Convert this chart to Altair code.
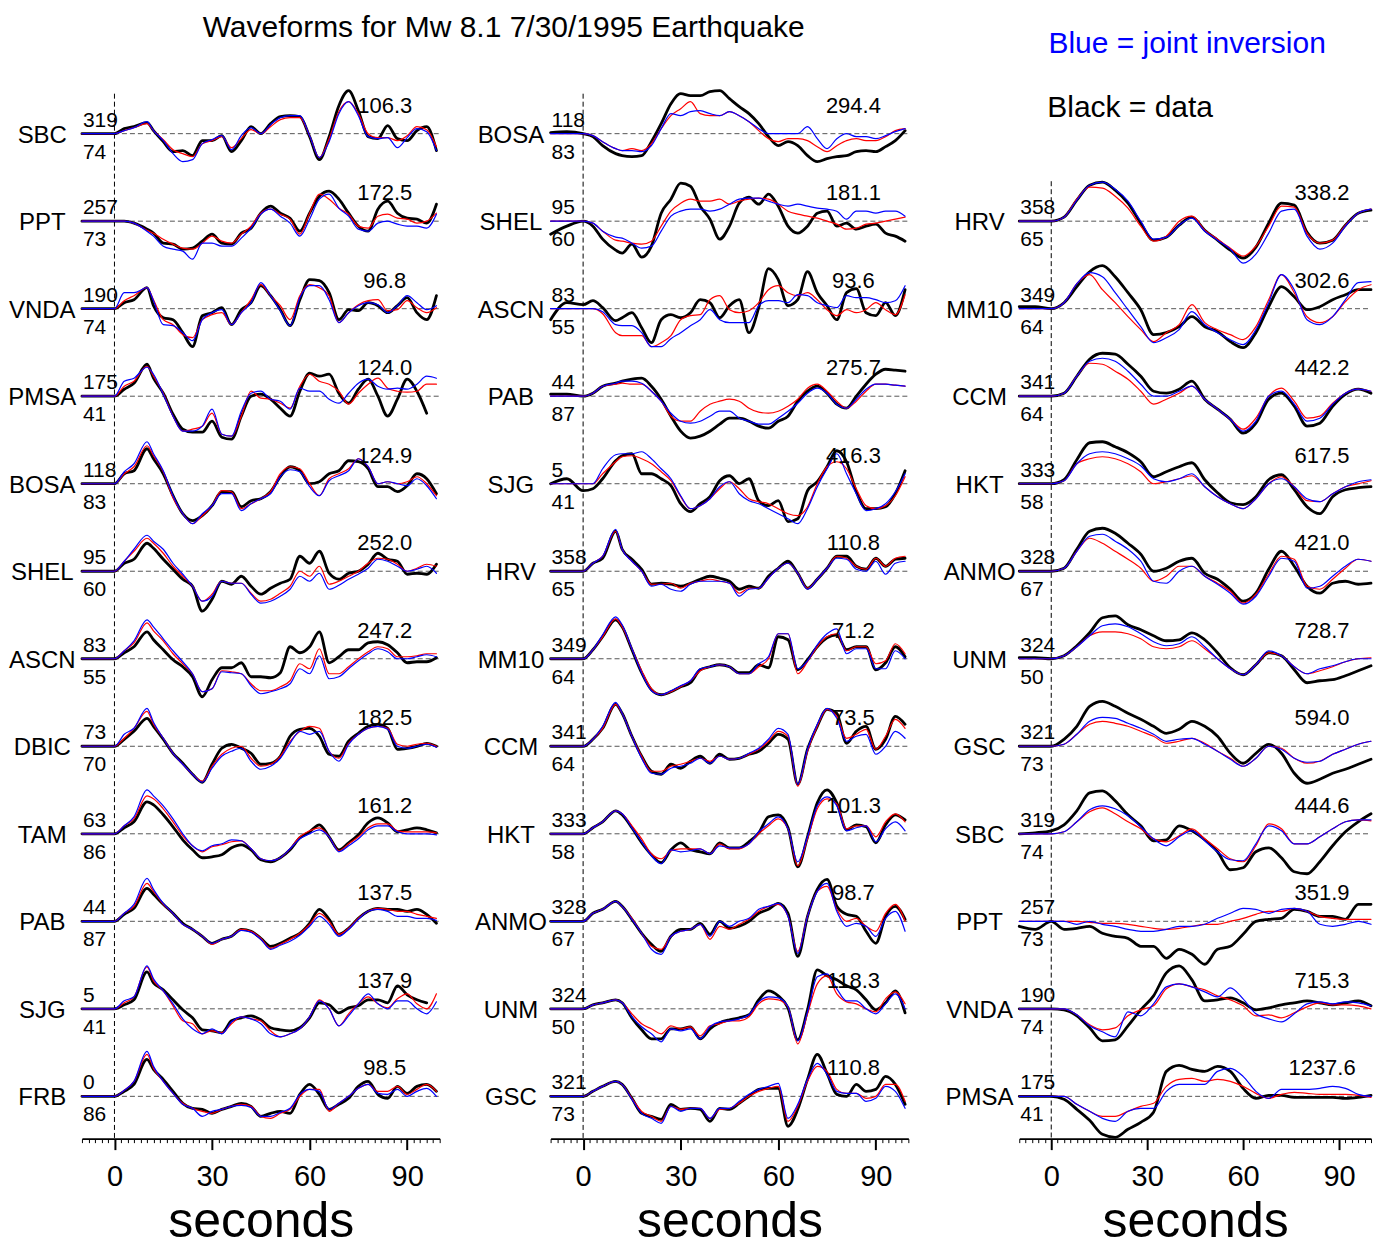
import altair as alt
import pandas as pd

FONT = "Liberation Sans"

# ---------------- time grids (seconds) ----------------
T_C12 = [-10, -5, 0, 3, 6, 10] + list(range(12, 100, 3))
T_C3 = [-10, -5] + list(range(0, 101, 4))

# ---------------- column 1 ----------------
C1_STATIONS = ["SBC", "PPT", "VNDA", "PMSA", "BOSA", "SHEL", "ASCN", "DBIC", "TAM", "PAB", "SJG", "FRB"]
C1_AZ = [319, 257, 190, 175, 118, 95, 83, 73, 63, 44, 5, 0]
C1_DIST = [74, 73, 74, 41, 83, 60, 55, 70, 86, 87, 41, 86]
C1_AMP = ["106.3", "172.5", "96.8", "124.0", "124.9", "252.0", "247.2", "182.5", "161.2", "137.5", "137.9", "98.5"]

C1_SBC_B = [0,0, 0,5,7,11,3,-8,-18,-17,-22,-7,-7,-2,-18,-7,7,0,10,17,18,17,-3,-26,-3,28,43,23,-3,-5,8,-5,-7,3,7,-17]
C1_SBC_R = [0,0, 0,3,6,10,3,-6,-16,-20,-23,-10,-7,-3,-14,-5,4,0,7,14,16,16,-2,-24,-5,22,32,20,0,-4,-4,-7,-2,7,4,-13]
C1_SBC_L = [0,0, 0,3,6,12,3,-7,-20,-28,-26,-10,-6,-2,-16,-2,6,0,9,16,18,18,-2,-24,-8,20,32,18,-3,-5,-4,-14,-4,5,2,-17]
C1_PPT_B = [0,0, 0,0,-2,-8,-12,-22,-23,-28,-27,-20,-13,-22,-23,-12,-7,8,15,8,3,-10,8,25,30,22,8,-5,-10,12,20,8,3,2,-2,17]
C1_PPT_R = [0,0, 0,0,-2,-9,-12,-18,-23,-27,-28,-22,-15,-20,-22,-13,-5,8,12,7,2,-13,8,27,22,13,7,-5,-7,5,7,3,2,-2,0,8]
C1_PPT_L = [0,0, 0,0,-2,-10,-15,-25,-28,-30,-38,-22,-22,-25,-25,-17,-7,7,12,5,-2,-15,2,22,27,13,5,-8,-10,-2,0,-3,-5,-5,-7,7]
C1_VNDA_B = [0,0, 0,6,9,21,3,-9,-11,-24,-38,-7,-4,1,-16,-1,6,23,13,-1,-17,9,29,28,16,-11,-1,-2,6,3,-4,3,11,-4,-11,13]
C1_VNDA_R = [0,0, 0,8,13,21,9,-11,-16,-26,-29,-11,-6,-4,-16,-4,9,24,13,3,-11,13,24,21,13,-14,-4,4,8,9,-2,-1,8,1,-4,1]
C1_VNDA_L = [0,0, 0,16,16,21,8,-16,-17,-24,-32,-11,-4,-1,-16,-4,6,26,13,-2,-17,11,23,23,9,-14,-4,3,6,4,-4,3,13,6,-1,3]
C1_PMSA_B = [0,0, 0,7,13,32,18,3,-18,-33,-36,-36,-25,-41,-43,-20,0,2,-3,-12,-20,5,23,20,22,3,-7,7,17,0,-20,-3,17,5,-17,None]
C1_PMSA_R = [0,0, 0,10,15,30,20,3,-20,-35,-33,-30,-17,-38,-40,-20,5,-2,-3,-7,-12,10,22,15,12,5,-8,3,12,18,8,5,4,5,12,12]
C1_PMSA_L = [0,0, 0,15,18,29,22,2,-20,-35,-35,-30,-13,-38,-40,-15,3,5,-3,-5,-13,8,5,5,-3,-7,3,13,17,10,7,8,7,12,20,18]
C1_BOSA_B = [0,0, 0,10,13,35,25,10,-12,-30,-37,-32,-22,-8,-8,-23,-17,-15,-8,7,17,13,0,2,10,13,23,22,15,-3,-3,-8,-2,10,5,-10]
C1_BOSA_R = [0,0, 0,10,17,38,28,12,-14,-30,-40,-32,-22,-7,-8,-25,-20,-15,-8,10,17,15,0,-12,5,10,15,25,17,0,2,0,2,7,0,-12]
C1_BOSA_L = [0,0, 0,12,20,42,30,13,-12,-30,-40,-30,-22,-10,-10,-27,-20,-15,-10,7,14,12,-3,-12,3,8,13,25,17,0,2,0,-2,5,-2,-15]
C1_SHEL_B = [0,0, 0,8,12,28,23,12,2,-8,-15,-40,-28,-10,-13,-5,-15,-23,-17,-12,-8,15,8,20,-2,-8,-2,0,7,18,12,10,-3,-2,-3,7]
C1_SHEL_R = [0,0, 0,10,20,33,28,18,5,-5,-15,-30,-23,-10,-12,-12,-22,-30,-28,-22,-15,0,-5,5,-13,-10,-5,0,8,13,12,7,0,3,7,5]
C1_SHEL_L = [0,0, 0,10,22,36,30,22,8,-3,-15,-30,-25,-10,-12,-12,-23,-32,-30,-25,-18,-5,-10,-2,-18,-14,-8,-3,3,12,10,5,0,2,5,-2]
C1_ASCN_B = [0,0, 0,6,12,27,19,9,-1,-8,-18,-38,-21,-9,-9,-4,-18,-18,-19,-14,12,6,12,27,-4,2,9,9,16,17,14,6,-4,-3,-3,1]
C1_ASCN_R = [0,0, 0,8,16,36,28,18,5,-5,-15,-33,-30,-12,-13,-15,-25,-32,-32,-28,-22,-5,-10,10,-15,-15,-8,0,7,12,10,2,2,3,5,5]
C1_ASCN_L = [0,0, 0,8,18,39,32,20,8,-3,-15,-33,-30,-13,-14,-15,-27,-35,-33,-30,-25,-10,-15,3,-20,-18,-10,-2,5,10,7,0,0,2,4,2]
C1_DBIC_B = [0,0, 0,7,15,28,20,7,-7,-17,-28,-36,-18,-2,2,-2,-7,-18,-17,-10,10,17,18,10,-8,-10,5,13,20,22,18,-3,-2,0,3,0]
C1_DBIC_R = [0,0, 0,8,18,35,22,8,-7,-18,-28,-35,-20,-8,-2,0,-12,-20,-18,-10,5,15,20,18,-5,-12,3,12,18,20,18,2,0,2,3,0]
C1_DBIC_L = [0,0, 0,12,18,38,24,8,-7,-18,-28,-36,-22,-10,-5,-2,-15,-23,-20,-12,3,15,12,15,-5,-15,2,12,18,20,17,0,-2,0,2,-1]
C1_TAM_B = [0,0, 0,6,12,32,29,19,7,-6,-16,-24,-23,-21,-14,-11,-16,-26,-28,-24,-16,-4,2,9,-3,-16,-9,-1,11,16,11,2,4,6,4,1]
C1_TAM_R = [0,0, 0,8,15,38,35,25,12,-2,-12,-18,-13,-11,-8,-7,-15,-25,-27,-24,-15,-3,3,6,-3,-17,-10,-3,6,10,10,3,2,2,2,1]
C1_TAM_L = [0,0, 0,8,17,44,38,28,15,0,-12,-17,-12,-10,-6,-7,-15,-25,-27,-24,-15,-5,0,4,-3,-18,-12,-5,4,8,8,2,0,0,0,-1]
C1_PAB_B = [0,0, 0,7,13,33,27,17,8,-2,-8,-15,-22,-18,-15,-8,-10,-17,-25,-22,-17,-12,-2,12,2,-13,-7,3,10,13,12,12,10,12,7,-2]
C1_PAB_R = [0,0, 0,8,15,38,30,17,8,-3,-8,-15,-23,-18,-15,-8,-10,-17,-27,-23,-18,-12,-3,8,0,-13,-7,3,10,13,12,10,10,7,5,3]
C1_PAB_L = [0,0, 0,8,17,43,32,18,8,-3,-8,-15,-22,-18,-15,-9,-11,-18,-28,-24,-20,-14,-5,5,-3,-15,-8,2,10,12,10,5,5,3,3,1]
C1_SJG_B = [0,0, 0,4,9,37,26,19,9,-1,-9,-21,-22,-24,-12,-9,-7,-11,-19,-21,-22,-19,-9,6,4,-4,1,3,9,9,6,23,14,9,6,None]
C1_SJG_R = [0,0, 0,6,12,42,28,18,3,-12,-15,-25,-22,-24,-15,-8,-10,-12,-22,-28,-25,-20,-8,9,0,-17,-5,5,12,5,1,10,15,5,0,15]
C1_SJG_L = [0,0, 0,8,12,43,30,18,5,-10,-20,-25,-20,-25,-13,-8,-10,-15,-25,-28,-25,-20,-8,8,0,-17,-7,5,15,5,0,8,8,0,-5,7]
C1_FRB_B = [0,0, 0,5,12,37,27,17,5,-7,-12,-13,-17,-13,-10,-7,-10,-20,-17,-15,-17,2,12,2,-13,-8,-2,10,15,2,-2,10,3,10,12,5]
C1_FRB_R = [0,0, 0,6,15,42,28,15,3,-7,-12,-15,-17,-13,-10,-8,-10,-20,-22,-17,-13,0,7,7,-15,-7,0,8,12,5,5,10,2,7,12,5]
C1_FRB_L = [0,0, 0,6,15,45,30,15,3,-8,-12,-20,-15,-13,-10,-9,-11,-20,-20,-16,-12,2,7,5,-13,-7,0,8,12,3,2,7,0,5,8,0]

# ---------------- column 2 ----------------
C2_STATIONS = ["BOSA", "SHEL", "ASCN", "PAB", "SJG", "HRV", "MM10", "CCM", "HKT", "ANMO", "UNM", "GSC"]
C2_AZ = [118, 95, 83, 44, 5, 358, 349, 341, 333, 328, 324, 321]
C2_DIST = [83, 60, 55, 87, 41, 65, 64, 64, 58, 67, 50, 73]
C2_AMP = ["294.4", "181.1", "93.6", "275.7", "416.3", "110.8", "71.2", "73.5", "101.3", "98.7", "118.3", "110.8"]

C2_BOSA_B = [1,2, 0,-3,-12,-20,-22,-23,-22,-8,10,30,40,38,38,42,43,35,27,20,10,-3,-12,-8,-12,-22,-28,-25,-23,-22,-18,-17,-18,-13,-7,3]
C2_BOSA_R = [0,0, 0,-2,-8,-15,-17,-15,-17,-10,5,18,25,32,20,18,18,22,18,12,3,-5,-8,-5,-5,-7,-13,-18,-12,-7,-5,-7,-7,-3,3,5]
C2_BOSA_L = [0,0, 0,-2,-8,-15,-17,-17,-18,-12,5,20,18,22,23,20,18,22,18,12,5,0,0,0,0,7,-5,-15,-5,0,-3,-3,-5,-2,2,5]
C2_SHEL_B = [-13,-5, 0,-5,-18,-29,-32,-23,-36,-25,8,22,38,35,15,2,-18,-5,18,24,17,27,15,-5,-12,-5,8,10,-5,-2,-8,-5,-3,-12,-15,-20]
C2_SHEL_R = [0,0, 0,-2,-10,-19,-20,-22,-23,-20,-5,10,18,22,20,20,22,17,20,22,23,22,17,10,7,5,3,0,-3,-8,-7,-3,-2,0,2,4]
C2_SHEL_L = [0,0, 0,-2,-10,-16,-17,-22,-27,-25,-10,5,10,12,12,10,12,17,22,23,23,20,17,15,17,15,13,12,10,2,10,10,8,10,10,5]
C2_ASCN_B = [-11,6, 4,8,1,-12,-9,-4,-19,-34,-11,-6,-9,-4,9,6,-9,3,9,-24,1,40,29,3,9,37,16,3,-11,16,20,-4,-7,6,-7,19]
C2_ASCN_R = [0,0, 0,0,-5,-24,-27,-27,-27,-38,-34,-27,-11,-7,-6,9,13,-1,-4,-2,6,19,23,16,13,16,9,-1,-7,-1,-4,-1,6,-1,-6,14]
C2_ASCN_L = [0,0, 0,0,-3,-16,-17,-17,-24,-38,-38,-30,-24,-17,-11,-1,-11,-14,-14,-14,3,8,8,6,14,13,6,3,1,13,11,11,9,6,8,23]
C2_PAB_B = [2,2, 0,3,10,13,15,17,18,10,-3,-20,-35,-42,-40,-35,-28,-22,-22,-25,-30,-32,-25,-20,-5,5,10,3,-8,-12,0,12,22,27,26,25]
C2_PAB_R = [0,0, 0,3,10,12,13,12,12,5,-5,-20,-25,-25,-15,-8,-5,-3,-5,-12,-16,-17,-15,-10,-3,8,12,5,-5,-12,-5,5,12,12,11,10]
C2_PAB_L = [0,0, 0,3,10,13,15,15,13,5,-5,-17,-25,-27,-25,-20,-15,-15,-22,-25,-28,-28,-22,-15,-7,3,8,3,-8,-12,-3,7,12,12,11,10]
C2_SJG_B = [0,5, -7,-5,5,23,28,30,10,10,5,-2,-20,-28,-20,-13,3,8,0,5,-17,-22,-17,-38,-35,-7,2,17,33,22,-8,-25,-25,-23,-10,13]
C2_SJG_R = [0,0, 0,0,10,22,27,28,25,20,12,3,-13,-25,-22,-15,-5,2,-5,-15,-18,-20,-25,-30,-32,-23,0,17,22,15,-5,-22,-25,-22,-12,7]
C2_SJG_L = [0,0, 0,0,15,29,30,30,32,25,15,5,-12,-25,-22,-15,-3,2,-10,-17,-20,-25,-30,-35,-40,-25,-3,15,30,10,-10,-27,-25,-20,-8,10]
C2_HRV_B = [0,0, 0,8,13,40,22,12,2,-13,-12,-13,-15,-12,-8,-5,-7,-10,-18,-15,-17,-5,3,10,-2,-17,-8,3,15,15,5,2,13,5,12,13]
C2_HRV_R = [0,0, 0,8,15,40,22,10,0,-13,-13,-12,-17,-12,-10,-8,-10,-12,-22,-17,-17,-7,3,8,-2,-17,-8,3,15,13,5,2,13,5,13,15]
C2_HRV_L = [0,0, 0,8,15,42,22,10,0,-15,-13,-18,-20,-13,-10,-10,-10,-12,-25,-18,-17,-7,3,8,-2,-18,-8,3,13,12,2,0,10,-3,8,10]
C2_MM10_B = [0,0, 0,9,22,39,32,9,-14,-31,-36,-33,-28,-24,-11,-8,-6,-8,-14,-14,-6,-9,22,19,-11,-1,12,21,24,9,12,12,-11,-4,12,2]
C2_MM10_R = [0,0, 0,9,22,40,32,10,-12,-30,-36,-33,-28,-22,-12,-8,-6,-8,-15,-15,-8,0,25,25,-15,-3,12,22,25,8,12,12,-5,-2,15,5]
C2_MM10_L = [0,0, 0,9,24,42,34,10,-14,-32,-36,-32,-27,-22,-10,-8,-6,-8,-15,-15,-5,2,25,25,-10,-2,14,25,30,5,10,10,-10,-10,8,0]
C2_CCM_B = [0,0, 0,7,18,42,33,10,-10,-25,-28,-18,-22,-15,-10,-17,-8,-13,-12,-8,-5,3,12,7,-38,-3,20,37,33,3,15,20,-3,7,30,22]
C2_CCM_R = [0,0, 0,7,18,42,33,10,-10,-25,-25,-20,-18,-15,-12,-15,-10,-13,-12,-8,-3,5,15,10,-40,-5,20,37,30,8,12,17,-3,10,27,18]
C2_CCM_L = [0,0, 0,7,20,44,33,10,-12,-27,-28,-22,-20,-17,-12,-17,-10,-13,-12,-7,-2,7,18,12,-38,-3,22,38,28,5,10,12,-8,0,15,8]
C2_HKT_B = [0,0, 0,6,12,23,19,6,-9,-21,-29,-16,-9,-16,-18,-20,-9,-14,-14,-8,1,17,19,6,-33,-3,31,44,31,4,9,7,-9,9,19,14]
C2_HKT_R = [0,0, 0,6,12,23,20,8,-5,-20,-25,-17,-15,-15,-15,-20,-10,-15,-15,-10,0,8,15,5,-32,-5,25,35,30,5,8,8,-3,12,20,12]
C2_HKT_L = [0,0, 0,6,12,23,20,6,-8,-22,-30,-16,-18,-17,-15,-20,-12,-14,-14,-10,2,10,17,5,-28,-3,28,37,28,3,6,8,-8,5,12,3]
C2_ANMO_B = [0,0, 0,8,12,20,15,2,-12,-23,-30,-15,-8,-8,-2,-13,0,-7,-5,0,8,12,18,8,-35,5,32,42,15,7,5,-10,-22,5,15,2]
C2_ANMO_R = [0,0, 0,8,12,20,15,3,-12,-25,-28,-15,-10,-8,-3,-18,-5,-8,-3,2,10,15,17,5,-30,5,30,35,12,0,3,-5,-10,8,17,0]
C2_ANMO_L = [0,0, 0,8,12,20,15,2,-12,-28,-33,-15,-10,-8,-3,-15,0,-5,0,3,12,15,18,5,-32,5,30,38,10,-5,-2,-5,-15,3,10,-10]
C2_UNM_B = [0,0, 0,4,6,9,6,-9,-21,-30,-30,-20,-20,-18,-30,-20,-14,-11,-9,-6,9,18,13,1,-31,-1,39,33,29,23,19,9,-1,6,18,-4]
C2_UNM_R = [0,0, 0,4,6,9,6,-5,-15,-20,-25,-17,-20,-18,-27,-17,-15,-12,-12,-8,5,10,9,2,-35,-5,25,33,15,7,5,0,-3,10,17,5]
C2_UNM_L = [0,0, 0,4,6,9,6,-8,-18,-25,-33,-20,-22,-20,-30,-18,-13,-12,-10,-6,7,12,11,2,-32,-3,32,35,20,8,8,0,-5,5,15,0]
C2_GSC_B = [0,0, 0,5,10,15,12,-2,-17,-20,-23,-8,-13,-12,-13,-25,-12,-13,-7,0,7,8,8,-30,-13,17,42,23,2,0,12,5,7,20,12,-8]
C2_GSC_R = [0,0, 0,5,10,15,12,-2,-15,-20,-25,-10,-13,-12,-12,-22,-13,-12,-7,0,5,8,10,-25,-10,15,30,25,7,3,3,-2,0,12,12,-5]
C2_GSC_L = [0,0, 0,5,10,15,12,-3,-17,-22,-27,-10,-15,-12,-12,-22,-12,-12,-5,2,7,10,13,-22,-8,17,33,22,5,3,3,-5,-2,10,5,-12]

# ---------------- column 3 ----------------
C3_STATIONS = ["HRV", "MM10", "CCM", "HKT", "ANMO", "UNM", "GSC", "SBC", "PPT", "VNDA", "PMSA"]
C3_AZ = [358, 349, 341, 333, 328, 324, 321, 319, 257, 190, 175]
C3_DIST = [65, 64, 64, 58, 67, 50, 73, 74, 73, 74, 41]
C3_AMP = ["338.2", "302.6", "442.2", "617.5", "421.0", "728.7", "594.0", "444.6", "351.9", "715.3", "1237.6"]

C3_HRV_B = [0,0, 0,4,21,36,39,31,18,-2,-19,-16,-4,4,-9,-19,-29,-37,-26,-2,18,16,-11,-22,-19,-4,8,11]
C3_HRV_R = [0,0, 0,4,22,34,33,25,13,-5,-20,-15,0,5,-9,-18,-27,-35,-25,-5,15,14,-12,-22,-19,-4,8,12]
C3_HRV_L = [0,0, 0,4,21,36,39,32,20,0,-18,-16,-4,3,-10,-19,-28,-42,-33,-12,10,12,-15,-28,-22,-5,8,12]
C3_MM10_B = [2,2, 0,6,22,37,43,32,16,-1,-26,-24,-18,-8,-18,-23,-33,-39,-24,2,22,12,-1,2,9,14,19,19]
C3_MM10_R = [0,0, 0,6,25,34,19,6,-8,-21,-33,-24,-16,4,-14,-21,-26,-31,-18,9,34,16,-8,-14,-8,7,19,24]
C3_MM10_L = [0,0, 0,6,25,36,32,16,-1,-18,-34,-29,-21,-3,-16,-24,-31,-36,-21,6,34,19,-11,-16,-8,9,26,27]
C3_CCM_B = [0,0, 0,3,20,37,43,42,32,20,5,3,7,15,-3,-13,-23,-37,-27,-3,3,-10,-30,-27,-10,2,7,3]
C3_CCM_R = [0,0, 0,3,20,33,32,25,17,5,-8,-3,3,10,-3,-13,-23,-33,-22,0,8,-5,-22,-20,-7,3,7,5]
C3_CCM_L = [0,0, 0,3,20,35,38,35,25,12,0,0,5,10,-3,-13,-23,-35,-25,0,5,-8,-25,-22,-8,3,7,5]
C3_HKT_B = [0,0, 0,4,24,41,42,37,31,22,7,12,17,21,4,-9,-19,-21,-13,4,9,-6,-23,-30,-13,-6,-4,-3]
C3_HKT_R = [0,0, 0,3,20,25,27,25,20,12,0,2,5,8,-3,-13,-20,-25,-15,0,7,-3,-17,-18,-10,-3,0,3]
C3_HKT_L = [0,0, 0,3,20,30,32,30,25,18,5,2,5,10,-3,-13,-20,-25,-15,0,5,-3,-15,-18,-10,-3,2,4]
C3_ANMO_B = [0,0, 0,3,22,40,43,38,28,17,0,3,10,13,-2,-8,-18,-30,-22,2,20,5,-15,-22,-12,-10,-13,-12]
C3_ANMO_R = [0,0, 0,3,20,33,28,20,12,3,-10,-5,5,5,-5,-12,-20,-32,-23,-3,15,12,-15,-18,-8,3,12,10]
C3_ANMO_L = [0,0, 0,3,20,35,37,30,22,10,-10,-12,0,5,-5,-13,-22,-33,-25,-5,13,10,-17,-15,-5,5,12,10]
C3_UNM_B = [1,1, 0,3,13,26,41,43,34,29,23,18,19,26,19,6,-9,-16,-6,6,3,-11,-24,-22,-21,-17,-12,-7]
C3_UNM_R = [0,0, 0,3,12,23,27,27,25,20,12,10,12,18,10,0,-10,-16,-6,6,3,-8,-15,-12,-8,-3,0,1]
C3_UNM_L = [0,0, 0,3,12,23,33,35,32,25,17,13,15,22,12,0,-10,-16,-6,8,3,-8,-15,-10,-7,-3,0,0]
C3_GSC_B = [0,0, 0,7,20,40,45,40,33,27,20,13,17,25,20,10,-7,-17,-7,2,-7,-27,-37,-33,-27,-23,-18,-13]
C3_GSC_R = [0,0, 0,2,12,22,25,23,20,15,10,3,5,8,3,-5,-12,-20,-12,0,-2,-12,-17,-15,-8,-3,2,5]
C3_GSC_L = [0,0, 0,2,12,25,29,28,23,18,12,5,7,8,2,-5,-13,-20,-12,0,-3,-12,-16,-15,-8,-3,2,5]
C3_SBC_B = [0,1, 3,9,23,41,43,33,19,8,-7,-6,8,3,-6,-18,-36,-34,-18,-14,-24,-38,-40,-28,-12,2,12,20]
C3_SBC_R = [0,0, 0,2,12,22,26,20,12,5,-5,-8,-2,5,-5,-15,-25,-28,-12,10,5,-10,-10,-3,5,12,14,13]
C3_SBC_L = [0,0, 0,2,12,24,28,25,18,7,-5,-12,-3,3,-7,-18,-26,-27,-10,8,3,-10,-10,-3,5,12,14,14]
C3_PPT_B = [-5,-8, 0,-8,-7,-5,-12,-15,-17,-25,-25,-37,-28,-33,-43,-28,-25,-13,0,2,3,12,10,5,5,2,17,17]
C3_PPT_R = [0,0, 0,0,0,-1,-2,-2,-3,-5,-7,-8,-7,-5,-3,-3,0,3,7,10,10,13,10,5,3,2,2,2]
C3_PPT_L = [0,0, 0,0,-3,0,-3,-5,-8,-10,-10,-8,-5,-5,-3,3,8,13,12,8,12,13,10,-3,-5,-3,0,-3]
C3_VNDA_B = [0,0, 0,-1,-7,-19,-32,-31,-17,-1,13,36,43,29,8,9,11,6,-1,1,4,6,8,6,4,6,8,3]
C3_VNDA_R = [0,0, 0,0,-6,-16,-21,-19,-7,-1,3,20,25,22,19,13,9,3,-7,-6,-9,-4,2,6,4,4,3,0]
C3_VNDA_L = [0,0, 0,0,-6,-17,-23,-28,-3,-7,5,22,25,22,17,12,21,10,-5,-10,-13,-5,5,7,5,7,6,3]
C3_PMSA_B = [0,0, 0,-3,-13,-24,-38,-41,-33,-26,-16,25,31,27,25,30,25,8,-2,1,1,-1,-1,-1,-1,-2,-1,1]
C3_PMSA_R = [0,0, 0,0,-8,-15,-20,-20,-15,-10,-7,10,17,18,15,17,15,10,3,-2,2,4,3,2,2,2,1,-1]
C3_PMSA_L = [0,0, 0,0,-8,-15,-22,-25,-15,-12,-12,5,12,12,12,25,28,20,5,-2,7,7,7,8,10,8,2,0]

C1_WAVES = [
    (C1_SBC_B, C1_SBC_R, C1_SBC_L), (C1_PPT_B, C1_PPT_R, C1_PPT_L),
    (C1_VNDA_B, C1_VNDA_R, C1_VNDA_L), (C1_PMSA_B, C1_PMSA_R, C1_PMSA_L),
    (C1_BOSA_B, C1_BOSA_R, C1_BOSA_L), (C1_SHEL_B, C1_SHEL_R, C1_SHEL_L),
    (C1_ASCN_B, C1_ASCN_R, C1_ASCN_L), (C1_DBIC_B, C1_DBIC_R, C1_DBIC_L),
    (C1_TAM_B, C1_TAM_R, C1_TAM_L), (C1_PAB_B, C1_PAB_R, C1_PAB_L),
    (C1_SJG_B, C1_SJG_R, C1_SJG_L), (C1_FRB_B, C1_FRB_R, C1_FRB_L),
]
C2_WAVES = [
    (C2_BOSA_B, C2_BOSA_R, C2_BOSA_L), (C2_SHEL_B, C2_SHEL_R, C2_SHEL_L),
    (C2_ASCN_B, C2_ASCN_R, C2_ASCN_L), (C2_PAB_B, C2_PAB_R, C2_PAB_L),
    (C2_SJG_B, C2_SJG_R, C2_SJG_L), (C2_HRV_B, C2_HRV_R, C2_HRV_L),
    (C2_MM10_B, C2_MM10_R, C2_MM10_L), (C2_CCM_B, C2_CCM_R, C2_CCM_L),
    (C2_HKT_B, C2_HKT_R, C2_HKT_L), (C2_ANMO_B, C2_ANMO_R, C2_ANMO_L),
    (C2_UNM_B, C2_UNM_R, C2_UNM_L), (C2_GSC_B, C2_GSC_R, C2_GSC_L),
]
C3_WAVES = [
    (C3_HRV_B, C3_HRV_R, C3_HRV_L), (C3_MM10_B, C3_MM10_R, C3_MM10_L),
    (C3_CCM_B, C3_CCM_R, C3_CCM_L), (C3_HKT_B, C3_HKT_R, C3_HKT_L),
    (C3_ANMO_B, C3_ANMO_R, C3_ANMO_L), (C3_UNM_B, C3_UNM_R, C3_UNM_L),
    (C3_GSC_B, C3_GSC_R, C3_GSC_L), (C3_SBC_B, C3_SBC_R, C3_SBC_L),
    (C3_PPT_B, C3_PPT_R, C3_PPT_L), (C3_VNDA_B, C3_VNDA_R, C3_VNDA_L),
    (C3_PMSA_B, C3_PMSA_R, C3_PMSA_L),
]

TITLE = "Waveforms for Mw 8.1 7/30/1995 Earthquake"
LEGEND_BLUE = "Blue = joint inversion"
LEGEND_BLACK = "Black = data"

# ---------------- layout constants ----------------
PLOT_H = 1131
ROW_PX = 87.58
TOP_PX = 125.3
T_MIN, T_MAX = -10, 100
STATION_DX = -39.7   # px from plot left edge (label centre)
NUM_DX = 1.0         # px from plot left edge (left-aligned numbers)
AMP_DX = 303.0       # px from plot left edge (amplitude centre)

COLUMNS = [
    dict(stations=C1_STATIONS, az=C1_AZ, dist=C1_DIST, amp=C1_AMP, waves=C1_WAVES, times=T_C12, first_row=0, width=358),
    dict(stations=C2_STATIONS, az=C2_AZ, dist=C2_DIST, amp=C2_AMP, waves=C2_WAVES, times=T_C12, first_row=0, width=358),
    dict(stations=C3_STATIONS, az=C3_AZ, dist=C3_DIST, amp=C3_AMP, waves=C3_WAVES, times=T_C3, first_row=1, width=352),
]


def baseline(row):
    return -TOP_PX - row * ROW_PX


x_scale = alt.Scale(domain=[T_MIN, T_MAX], nice=False, zero=False)
y_scale = alt.Scale(domain=[-PLOT_H, 0], nice=False, zero=False)

AXIS = alt.Axis(
    values=list(range(T_MIN, T_MAX + 1, 2)),
    title="seconds",
    grid=False,
    labelExpr="datum.value % 30 === 0 ? datum.label : ''",
    labelFont=FONT, labelFontSize=29, labelColor="black",
    labelPadding=13, labelOverlap=False, labelFlush=False,
    tickSize={"condition": {"test": "datum.value % 30 === 0", "value": 11}, "value": 4},
    tickWidth={"condition": {"test": "datum.value % 30 === 0", "value": 2}, "value": 1},
    tickColor="black", domainColor="black", domainWidth=2,
    titleFont=FONT, titleFontSize=50, titleFontWeight="normal", titleColor="black",
    titleBaseline="alphabetic", titleY=98,
)

X = alt.X("t:Q", scale=x_scale, axis=AXIS)
Y = alt.Y("y:Q", scale=y_scale, axis=None)

SERIES_STYLE = [("data", "black", 2.8), ("red", "#ff0000", 1.2), ("blue", "#0000ff", 1.2)]


def column_chart(ci, spec):
    pps = spec["width"] / (T_MAX - T_MIN)
    t_station = T_MIN + STATION_DX / pps
    t_num = T_MIN + NUM_DX / pps
    t_amp = T_MIN + AMP_DX / pps
    line_rows, base_rows, st_rows, az_rows, di_rows, amp_rows = [], [], [], [], [], []
    for i, name in enumerate(spec["stations"]):
        row = spec["first_row"] + i
        b = baseline(row)
        for (sname, _, _), arr in zip(SERIES_STYLE, spec["waves"][i]):
            for t, v in zip(spec["times"], arr):
                if v is None:
                    continue
                line_rows.append(dict(key=f"{ci}-{i}", series=sname, t=t, y=b + v))
        base_rows.append(dict(t=T_MIN, t2=T_MAX, y=b))
        st_rows.append(dict(t=t_station, y=b - 2, label=name))
        az_rows.append(dict(t=t_num, y=b + 13, label=str(spec["az"][i])))
        di_rows.append(dict(t=t_num, y=b - 19, label=str(spec["dist"][i])))
        amp_rows.append(dict(t=t_amp, y=b + 28, label=spec["amp"][i]))

    lines = pd.DataFrame(line_rows)
    first_b = baseline(spec["first_row"])
    vdf = pd.DataFrame([dict(t=0, y=first_b + 40, y2=-PLOT_H)])

    layers = [
        alt.Chart(pd.DataFrame(base_rows)).mark_rule(color="#555555", strokeDash=[5, 3], strokeWidth=1)
        .encode(x=X, x2=alt.X2("t2:Q"), y=Y),
        alt.Chart(vdf).mark_rule(color="black", strokeDash=[5, 3], strokeWidth=1)
        .encode(x=X, y=Y, y2=alt.Y2("y2:Q")),
    ]
    for sname, color, width in SERIES_STYLE:
        sub = lines[lines["series"] == sname]
        layers.append(
            alt.Chart(sub).mark_line(color=color, strokeWidth=width, interpolate="monotone",
                                     strokeJoin="round", strokeCap="round")
            .encode(x=X, y=Y, detail="key:N")
        )
    layers += [
        alt.Chart(pd.DataFrame(st_rows)).mark_text(font=FONT, fontSize=24, align="center", baseline="middle", color="black")
        .encode(x=X, y=Y, text="label:N"),
        alt.Chart(pd.DataFrame(az_rows)).mark_text(font=FONT, fontSize=21, align="left", baseline="middle", color="black")
        .encode(x=X, y=Y, text="label:N"),
        alt.Chart(pd.DataFrame(di_rows)).mark_text(font=FONT, fontSize=21, align="left", baseline="middle", color="black")
        .encode(x=X, y=Y, text="label:N"),
        alt.Chart(pd.DataFrame(amp_rows)).mark_text(font=FONT, fontSize=22, align="center", baseline="middle", color="black")
        .encode(x=X, y=Y, text="label:N"),
    ]
    if ci == 0:
        layers.append(
            alt.Chart(pd.DataFrame({"label": [TITLE]})).mark_text(
                font=FONT, fontSize=30, align="center", baseline="middle", color="black")
            .encode(text="label:N", x=alt.value(422), y=alt.value(20))
        )
    if ci == 2:
        layers.append(
            alt.Chart(pd.DataFrame({"label": [LEGEND_BLUE]})).mark_text(
                font=FONT, fontSize=30, align="center", baseline="middle", color="#0000ff")
            .encode(text="label:N", x=alt.value(168), y=alt.value(36))
        )
        layers.append(
            alt.Chart(pd.DataFrame({"label": [LEGEND_BLACK]})).mark_text(
                font=FONT, fontSize=30, align="left", baseline="middle", color="black")
            .encode(text="label:N", x=alt.value(28), y=alt.value(100))
        )
    return alt.layer(*layers).properties(width=spec["width"], height=PLOT_H)


charts = [column_chart(ci, spec) for ci, spec in enumerate(COLUMNS)]

chart = (
    alt.hconcat(*charts, spacing=111, bounds="flush", padding=0)
    .configure(font=FONT, background="white")
    .configure_view(stroke=None)
)

chart.save("out.html", embed_options={"renderer": "svg", "actions": False})
